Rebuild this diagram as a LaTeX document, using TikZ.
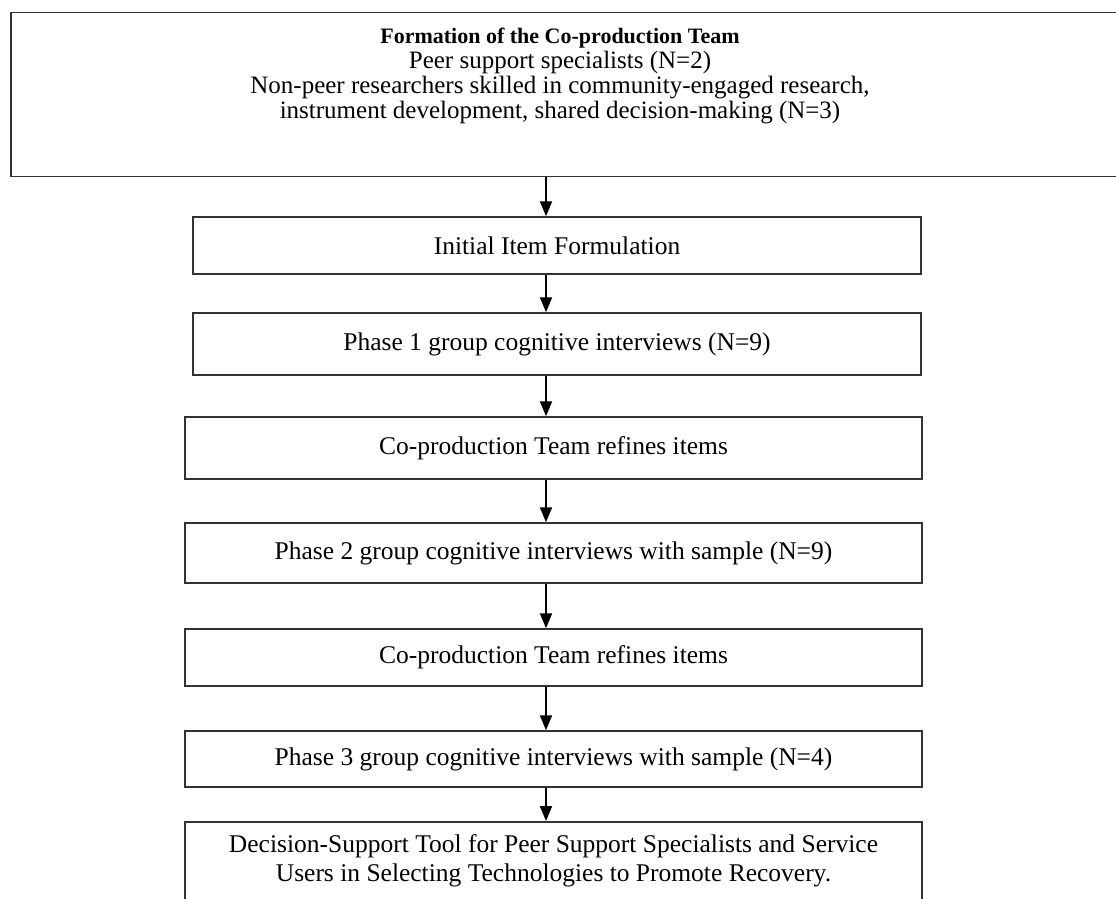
\documentclass[tikz,border=0pt]{standalone}
\usepackage{fontspec}
\setmainfont{Liberation Serif}
\usetikzlibrary{arrows.meta}
\begin{document}
\begin{tikzpicture}[x=1pt,y=-1pt,
  box/.style={draw=black!80, line width=1.5pt, rectangle, inner sep=0pt, align=center,
    font=\fontsize{25.5}{29}\selectfont},
  arr/.style={line width=2pt, -{Triangle[width=12pt,length=15pt]}}]
\clip (0,0) rectangle (1116,898);
\useasboundingbox (0,0) rectangle (1116,898);
\coordinate (ax) at (546,0);
% top box (extends past the right edge)
\node[box, anchor=north west, minimum width=1130pt, minimum height=164pt] (top) at (10,11.5) {};
\node[align=center, font=\fontsize{25}{25}\selectfont] (toptext) at (560,76)
  {{\fontsize{22}{25}\selectfont\textbf{Formation of the Co-production Team}}\\
   Peer support specialists (N=2)\\
   Non-peer researchers skilled in community-engaged research,\\
   instrument development, shared decision-making (N=3)};
\node[box, minimum width=728pt, minimum height=57pt] (b2) at (557,245.5) {Initial Item Formulation};
\node[box, minimum width=728pt, minimum height=62pt] (b3) at (557,344) {Phase 1 group cognitive interviews (N=9)};
\node[box, minimum width=737pt, minimum height=62pt] (b4) at (553.5,448) {Co-production Team refines items};
\node[box, minimum width=737pt, minimum height=60pt] (b5) at (553.5,553) {Phase 2 group cognitive interviews with sample (N=9)};
\node[box, minimum width=737pt, minimum height=57pt] (b6) at (553.5,657.5) {Co-production Team refines items};
\node[box, minimum width=737pt, minimum height=56pt] (b7) at (553.5,759) {Phase 3 group cognitive interviews with sample (N=4)};
\node[box, minimum width=737pt, inner ysep=13pt, anchor=north] (b8) at (553.5,821)
  {Decision-Support Tool for Peer Support Specialists and Service\\
   Users in Selecting Technologies to Promote Recovery.\rule[-60pt]{0pt}{0pt}};
\draw[arr] (top.south -| ax) -- (b2.north -| ax);
\draw[arr] (b2.south -| ax) -- (b3.north -| ax);
\draw[arr] (b3.south -| ax) -- (b4.north -| ax);
\draw[arr] (b4.south -| ax) -- (b5.north -| ax);
\draw[arr] (b5.south -| ax) -- (b6.north -| ax);
\draw[arr] (b6.south -| ax) -- (b7.north -| ax);
\draw[arr] (b7.south -| ax) -- (b8.north -| ax);
\end{tikzpicture}
\end{document}
